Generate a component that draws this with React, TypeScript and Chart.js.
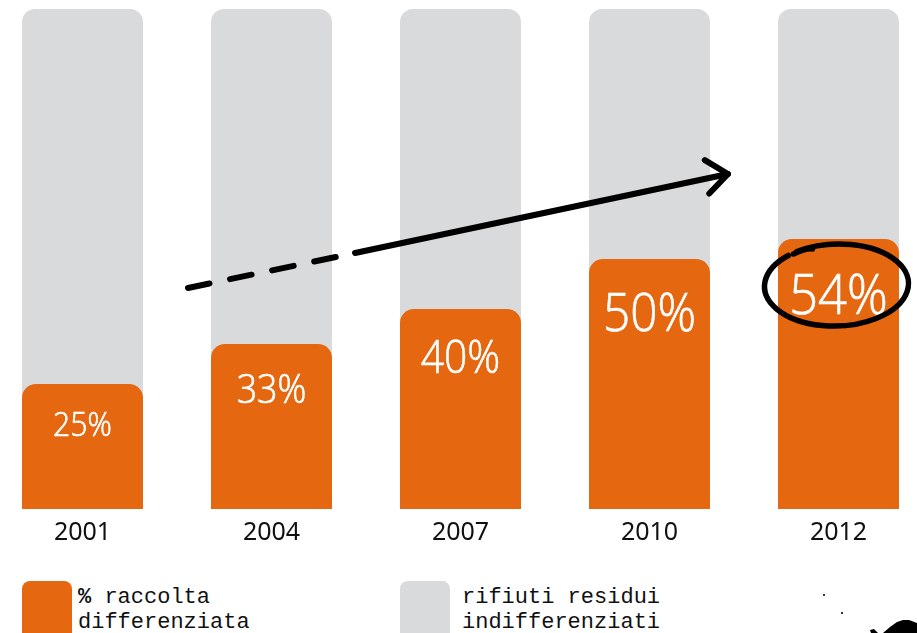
import React, { useEffect, useRef } from "react";
import { Chart, registerables } from "chart.js";

Chart.register(...registerables);

const years = ["2001", "2004", "2007", "2010", "2012"];
const differenziata = [25, 33, 40, 50, 54];
const totale = [100, 100, 100, 100, 100];
const legendLabels = ["% raccolta\ndifferenziata", "rifiuti residui\nindifferenziati"];

// trend arrow anchors (category index, value)
const arrowStart = [0.558, 44.2];
const arrowDashEnd = [1.442, 51.2];
const arrowTip = [3.415, 67];

const ORANGE = "#E5670F";
const GREY = "#D9DADC";

const annotations = {
  id: "annotations",
  afterDatasetsDraw(chart: any) {
    const ctx = chart.ctx;
    const xs = chart.scales.x;
    const ys = chart.scales.y;
    const meta = chart.getDatasetMeta(0);
    // value labels
    meta.data.forEach((bar: any, i: number) => {
      const v = differenziata[i];
      const size = 14 + 0.78 * v;
      ctx.save();
      ctx.fillStyle = "#ffffff";
      ctx.strokeStyle = "#ffffff";
      ctx.lineWidth = 0.7;
      ctx.font = `300 ${size}px "Open Sans", sans-serif`;
      ctx.textAlign = "center";
      ctx.textBaseline = "alphabetic";
      const cy = bar.y + 28 + 0.5 * v;
      ctx.translate(bar.x, cy + size * 0.357);
      ctx.scale(0.9, 1);
      ctx.fillText(`${v}%`, 0, 0);
      ctx.strokeText(`${v}%`, 0, 0);
      ctx.restore();
    });
    // arrow
    const p = (a: number[]) => [xs.getPixelForValue(a[0]), ys.getPixelForValue(a[1])];
    const s = p(arrowStart);
    const d = p(arrowDashEnd);
    const t = p(arrowTip);
    ctx.save();
    ctx.strokeStyle = "#000";
    ctx.lineWidth = 6;
    ctx.lineCap = "round";
    ctx.lineJoin = "round";
    ctx.setLineDash([22, 21]);
    ctx.beginPath();
    ctx.moveTo(s[0], s[1]);
    ctx.lineTo(d[0], d[1]);
    ctx.stroke();
    ctx.setLineDash([]);
    ctx.beginPath();
    ctx.moveTo(d[0], d[1]);
    ctx.lineTo(t[0], t[1]);
    ctx.stroke();
    const ang = Math.atan2(t[1] - d[1], t[0] - d[0]);
    ctx.beginPath();
    ctx.moveTo(t[0] + 27 * Math.cos(ang + Math.PI - 0.6), t[1] + 27 * Math.sin(ang + Math.PI - 0.6));
    ctx.lineTo(t[0], t[1]);
    ctx.lineTo(t[0] + 27 * Math.cos(ang + Math.PI + 0.75), t[1] + 27 * Math.sin(ang + Math.PI + 0.75));
    ctx.stroke();
    // ellipse around last value
    const last = meta.data[meta.data.length - 1];
    const ex = last.x - 2;
    const ey = last.y + 46;
    ctx.lineWidth = 5.5;
    ctx.beginPath();
    ctx.ellipse(ex, ey, 72, 41, -0.03, Math.PI * 1.32, Math.PI * 1.32 + Math.PI * 2 - 0.15);
    ctx.stroke();
    ctx.beginPath();
    ctx.moveTo(ex - 43, ey - 31);
    ctx.quadraticCurveTo(ex - 30, ey - 37, ex - 24, ey - 36);
    ctx.stroke();
    ctx.restore();
  },
};

export default function App() {
  const ref = useRef<HTMLCanvasElement | null>(null);
  useEffect(() => {
    document.body.style.margin = "0";
    const chart = new Chart(ref.current!, {
      type: "bar",
      data: {
        labels: years,
        datasets: [
          {
            label: "% raccolta differenziata",
            data: differenziata,
            backgroundColor: ORANGE,
            borderRadius: { topLeft: 14, topRight: 14, bottomLeft: 0, bottomRight: 0 },
            borderSkipped: false,
            grouped: false,
            barPercentage: 0.64,
            categoryPercentage: 1,
          },
          {
            label: "rifiuti residui indifferenziati",
            data: totale,
            backgroundColor: GREY,
            borderRadius: { topLeft: 13, topRight: 13, bottomLeft: 0, bottomRight: 0 },
            borderSkipped: false,
            grouped: false,
            barPercentage: 0.64,
            categoryPercentage: 1,
          },
        ],
      },
      options: {
        responsive: false,
        animation: false,
        layout: { padding: { top: 9, left: 0, right: 0, bottom: 0 } },
        plugins: { legend: { display: false }, tooltip: { enabled: false } },
        scales: {
          x: {
            offset: true,
            grid: { display: false, drawTicks: false },
            border: { display: false },
            ticks: {
              color: "#111",
              font: { family: '"Noto Sans", sans-serif', size: 25 },
              padding: 9,
            },
            afterFit: (scale: any) => {
              scale.height = 51;
            },
          },
          y: {
            display: false,
            min: 0,
            max: 100,
          },
        },
      },
      plugins: [annotations],
    });
    return () => chart.destroy();
  }, []);

  const legendText: React.CSSProperties = {
    position: "absolute",
    top: 585,
    fontFamily: '"Liberation Mono", monospace',
    fontSize: 22,
    lineHeight: "25px",
    color: "#111",
    whiteSpace: "pre",
  };
  const lines0 = legendLabels[0].split("\n");
  const lines1 = legendLabels[1].split("\n");

  return (
    <div
      style={{
        position: "fixed",
        left: 0,
        top: 0,
        width: 917,
        height: 633,
        overflow: "hidden",
        background: "#fff",
      }}
    >
      <canvas
        ref={ref}
        width={945}
        height={560}
        style={{ position: "absolute", left: -12, top: 0, width: 945, height: 560 }}
      />
      <div
        style={{
          position: "absolute",
          left: 22,
          top: 581,
          width: 50,
          height: 60,
          background: ORANGE,
          borderRadius: "8px 8px 0 0",
        }}
      />
      <div style={{ ...legendText, left: 78 }}>
        <span style={{ fontWeight: "bold" }}>{lines0[0].slice(0, 1)}</span>
        {lines0[0].slice(1)}
        {"\n"}
        {lines0[1]}
      </div>
      <div
        style={{
          position: "absolute",
          left: 400,
          top: 581,
          width: 50,
          height: 60,
          background: GREY,
          borderRadius: "8px 8px 0 0",
        }}
      />
      <div style={{ ...legendText, left: 462 }}>
        {lines1[0]}
        {"\n"}
        {lines1[1]}
      </div>
      <svg
        width={917}
        height={633}
        style={{ position: "absolute", left: 0, top: 0, pointerEvents: "none" }}
      >
        <polygon points="883,633 890,627 897,622 903,620 909,620 917,623 917,633" fill="#000" />
        <polygon points="870,630 874,629 878,633 871,633" fill="#000" />
        <rect x={823} y={594} width={2} height={2} fill="#333" />
        <rect x={841} y={612} width={2} height={2} fill="#333" />
      </svg>
    </div>
  );
}
